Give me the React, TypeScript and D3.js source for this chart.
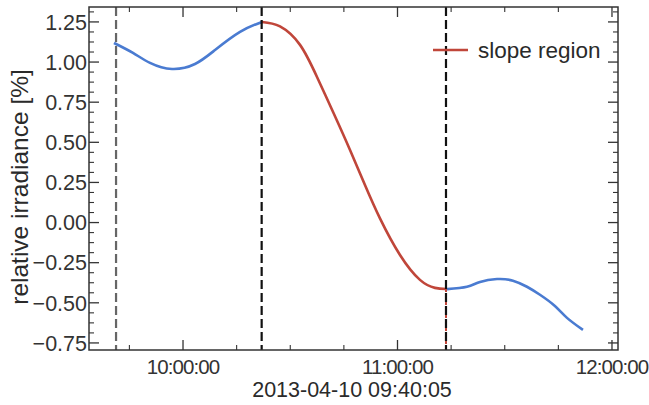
import React from "react";
import * as d3 from "d3";

const W = 649;
const H = 405;

// data
const preTimes = ["09:40:42", "09:46:00", "09:50:46", "09:56:55", "10:03:21", "10:08:57", "10:15:57", "10:22:06"];
const preValues = [1.119, 1.057, 0.995, 0.957, 0.988, 1.075, 1.188, 1.25];

const slopeTimes = ["10:22:06", "10:27:08", "10:32:44", "10:37:29", "10:42:31", "10:46:43", "10:50:54", "10:55:06", "11:00:42", "11:06:17", "11:10:29", "11:13:34"];
const slopeValues = [1.25, 1.222, 1.107, 0.907, 0.662, 0.452, 0.234, 0.026, -0.202, -0.357, -0.407, -0.414];

const postTimes = ["11:13:50", "11:19:26", "11:23:05", "11:27:50", "11:32:18", "11:36:13", "11:39:51", "11:44:02", "11:47:25", "11:51:53"];
const postValues = [-0.415, -0.4, -0.37, -0.352, -0.362, -0.4, -0.45, -0.52, -0.594, -0.669];

const markerTimes = ["09:41:16", "10:22:00", "11:13:34"];
const markerColors = ["#666666", "#111111", "#111111"];

const xTickTimes = ["10:00:00", "11:00:00", "12:00:00"];
const xMinorTimes = ["09:45:00", "10:15:00", "10:30:00", "10:45:00", "11:15:00", "11:30:00", "11:45:00"];
const yTicks = [-0.75, -0.5, -0.25, 0, 0.25, 0.5, 0.75, 1.0, 1.25];

const xDomain = ["09:33:42", "12:01:41"];
const yDomain = [-0.794, 1.343];

const xLabel = "2013-04-10 09:40:05";
const yLabel = "relative irradiance [%]";
const legendLabel = "slope region";

const parse = d3.timeParse("%H:%M:%S");
const fmt = d3.timeFormat("%H:%M:%S");

const BLUE = "#4a7bd1";
const RED = "#c0463a";
const AX = "#333333";

export default function App() {
  const left = 89, right = 618, top = 7, bottom = 350;
  const x = d3.scaleTime().domain(xDomain.map((t) => parse(t)!)).range([left, right]);
  const y = d3.scaleLinear().domain(yDomain).range([bottom, top]);

  const line = d3
    .line<[Date, number]>()
    .x((d) => x(d[0]))
    .y((d) => y(d[1]))
    .curve(d3.curveNatural);

  const mk = (ts: string[], vs: number[]) => ts.map((t, i) => [parse(t)!, vs[i]] as [Date, number]);

  const yMinor: number[] = [];
  for (let k = Math.ceil(yDomain[0] / 0.0625); k * 0.0625 <= yDomain[1]; k++) {
    const v = k * 0.0625;
    if (Math.abs(v / 0.25 - Math.round(v / 0.25)) > 1e-6) yMinor.push(v);
  }

  const yFmt = (v: number) => d3.format(".2f")(v).replace("-", "\u2212");
  const font = "'Liberation Sans', Arial, sans-serif";

  const lastSlope = slopeValues[slopeValues.length - 1];

  return (
    <svg width={W} height={H} style={{ position: "absolute", left: 0, top: 0 }} fontFamily={font}>
      <rect x={0} y={0} width={W} height={H} fill="#fff" />
      {/* red dashed under marker */}
      <line
        x1={x(parse(markerTimes[2])!)}
        x2={x(parse(markerTimes[2])!)}
        y1={y(lastSlope)}
        y2={bottom}
        stroke={RED}
        strokeWidth={2}
        strokeDasharray="9 4"
        strokeDashoffset={6}
      />
      {/* curves */}
      <path d={line(mk(preTimes, preValues))!} fill="none" stroke={BLUE} strokeWidth={2.6} />
      <path d={line(mk(postTimes, postValues))!} fill="none" stroke={BLUE} strokeWidth={2.6} />
      <path d={line(mk(slopeTimes, slopeValues))!} fill="none" stroke={RED} strokeWidth={2.6} />
      {/* markers */}
      {markerTimes.map((t, i) => (
        <line
          key={t}
          x1={x(parse(t)!)}
          x2={x(parse(t)!)}
          y1={top}
          y2={bottom}
          stroke={markerColors[i]}
          strokeWidth={2.2}
          strokeDasharray="9 4"
        />
      ))}
      {/* frame */}
      <rect x={left} y={top} width={right - left} height={bottom - top} fill="none" stroke={AX} strokeWidth={1.5} />
      {/* y ticks */}
      {yTicks.map((v) => (
        <g key={v}>
          <line x1={left} x2={left + 10} y1={y(v)} y2={y(v)} stroke={AX} strokeWidth={1.3} />
          <line x1={right} x2={right - 10} y1={y(v)} y2={y(v)} stroke={AX} strokeWidth={1.3} />
          <text x={left - 2} y={y(v)} dy="0.36em" textAnchor="end" fontSize={21.5} fill="#333">
            {yFmt(v)}
          </text>
        </g>
      ))}
      {yMinor.map((v) => (
        <g key={"m" + v}>
          <line x1={left} x2={left + 5} y1={y(v)} y2={y(v)} stroke={AX} strokeWidth={1.1} />
          <line x1={right} x2={right - 5} y1={y(v)} y2={y(v)} stroke={AX} strokeWidth={1.1} />
        </g>
      ))}
      {/* x ticks */}
      {xTickTimes.map((t) => {
        const xp = x(parse(t)!);
        return (
          <g key={t}>
            <line x1={xp} x2={xp} y1={bottom} y2={bottom - 10} stroke={AX} strokeWidth={1.3} />
            <line x1={xp} x2={xp} y1={top} y2={top + 10} stroke={AX} strokeWidth={1.3} />
            <text x={xp} y={374} textAnchor="middle" fontSize={20.5} letterSpacing={-0.9} fill="#333">
              {fmt(parse(t)!)}
            </text>
          </g>
        );
      })}
      {xMinorTimes.map((t) => {
        const xp = x(parse(t)!);
        return (
          <g key={t}>
            <line x1={xp} x2={xp} y1={bottom} y2={bottom - 5} stroke={AX} strokeWidth={1.1} />
            <line x1={xp} x2={xp} y1={top} y2={top + 5} stroke={AX} strokeWidth={1.1} />
          </g>
        );
      })}
      {/* axis labels */}
      <text x={352} y={397} textAnchor="middle" fontSize={21.5} fill="#2a2a2a">
        {xLabel}
      </text>
      <text
        transform={`translate(28,${187}) rotate(-90)`}
        textAnchor="middle"
        fontSize={24.5}
        fill="#2a2a2a"
      >
        {yLabel}
      </text>
      {/* legend */}
      <line x1={433} x2={468} y1={50} y2={50} stroke={RED} strokeWidth={2.6} />
      <text x={478} y={50} dy="0.36em" fontSize={22.5} fill="#2a2a2a">
        {legendLabel}
      </text>
    </svg>
  );
}
